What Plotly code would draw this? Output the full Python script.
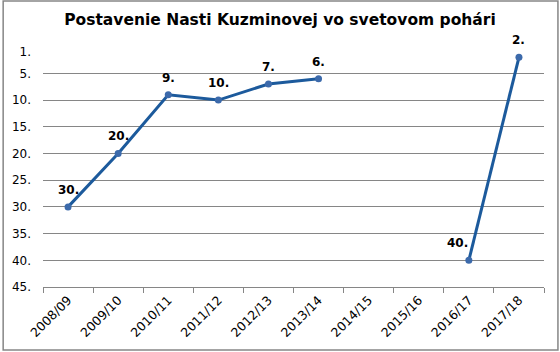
import plotly.graph_objects as go

seasons = ["2008/09", "2009/10", "2010/11", "2011/12", "2012/13",
           "2013/14", "2014/15", "2015/16", "2016/17", "2017/18"]
ranks = [30, 20, 9, 10, 7, 6, None, None, 40, 2]
rank_labels = [f"{r}." if r is not None else "" for r in ranks]
y_ticks = [1, 5, 10, 15, 20, 25, 30, 35, 40, 45]
y_tick_text = [f"{t}." for t in y_ticks]

# label placement tweaks (style only)
label_xshift = {"2016/17": -11}

W, H = 560, 352
L, R, T, B = 41, 16, 52, 65
pw, ph = W - L - R, H - T - B

fig = go.Figure()
fig.add_trace(go.Scatter(
    x=seasons, y=ranks, mode="lines+markers",
    line=dict(color="#1c5a9c", width=3),
    marker=dict(color="#3c6aab", size=7),
    connectgaps=False, showlegend=False, cliponaxis=False,
))

for s, r, lab in zip(seasons, ranks, rank_labels):
    if r is None:
        continue
    fig.add_annotation(x=s, y=r, text=f"<b>{lab}</b>", showarrow=False,
                       xanchor="center", yanchor="middle", yshift=17,
                       xshift=label_xshift.get(s, 0),
                       font=dict(family="DejaVu Sans", size=12, color="#000000"))

fig.update_layout(
    width=W, height=H,
    margin=dict(l=L, r=R, t=T, b=B),
    paper_bgcolor="white", plot_bgcolor="white",
    font=dict(family="DejaVu Sans", size=12, color="#000000"),
    title=dict(text="<b>Postavenie Nasti Kuzminovej vo svetovom pohári</b>",
               x=0.5, xanchor="center", y=1 - 20 / H, yanchor="middle",
               font=dict(family="DejaVu Sans", size=15.5, color="#000000")),
    xaxis=dict(type="category", categoryorder="array", categoryarray=seasons,
               tickson="boundaries", ticks="outside", ticklen=5, tickcolor="#868686",
               showline=True, linecolor="#868686", linewidth=1,
               showgrid=False, tickangle=-45, tickfont=dict(size=12.5),
               range=[-0.5, len(seasons) - 0.5]),
    yaxis=dict(range=[45, 1], tickvals=y_ticks, ticktext=y_tick_text,
               showgrid=True, gridcolor="#868686", gridwidth=1,
               zeroline=False, showline=False, ticks="", ticklabelstandoff=11,
               tickfont=dict(size=12)),
)

fig.add_shape(type="rect", xref="paper", yref="paper",
              x0=(1 - L) / pw, x1=(W - 2 - L) / pw,
              y0=-(H - 2 - (H - B)) / ph, y1=(H - B - 1) / ph,
              line=dict(color="#868686", width=1.5), fillcolor="rgba(0,0,0,0)")

fig.write_html("out.html")
